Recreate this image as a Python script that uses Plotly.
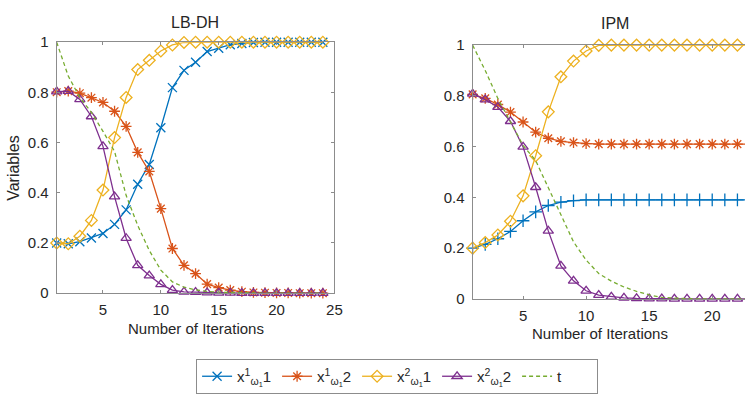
import plotly.graph_objects as go

# ---------------- data ----------------
iters = list(range(1, 25))

# LB-DH
lb_x11 = [0.200, 0.197, 0.205, 0.220, 0.238, 0.274, 0.332, 0.434, 0.513, 0.659, 0.819, 0.888, 0.920, 0.963,
          0.976, 0.990, 0.995, 0.999, 1.0, 1.0, 1.0, 1.0, 1.0, 1.0]
lb_x12 = [0.801, 0.805, 0.797, 0.779, 0.760, 0.725, 0.665, 0.561, 0.485, 0.337, 0.178, 0.111, 0.078, 0.036,
          0.022, 0.012, 0.006, 0.003, 0.002, 0.001, 0.001, 0.0, 0.0, 0.0]
lb_x21 = [0.200, 0.197, 0.227, 0.290, 0.411, 0.620, 0.780, 0.891, 0.928, 0.965, 0.989, 0.999, 1.0, 1.0,
          1.0, 1.0, 1.0, 1.0, 1.0, 1.0, 1.0, 1.0, 1.0, 1.0]
lb_x22 = [0.803, 0.805, 0.772, 0.704, 0.585, 0.385, 0.219, 0.111, 0.070, 0.035, 0.012, 0.005, 0.004, 0.002,
          0.001, 0.001, 0.0, 0.0, 0.0, 0.0, 0.0, 0.0, 0.0, 0.0]
lb_t = [1.0, 0.865, 0.780, 0.720, 0.645, 0.565, 0.390, 0.270, 0.170, 0.092, 0.045, 0.024, 0.013, 0.007,
        0.004, 0.002, 0.001, 0.001, 0.0, 0.0, 0.0, 0.0, 0.0, 0.0]

# IPM
ipm_x11 = [0.200, 0.215, 0.237, 0.266, 0.308, 0.343, 0.368, 0.381, 0.387, 0.390, 0.390, 0.390, 0.390, 0.390,
           0.390, 0.390, 0.390, 0.390, 0.390, 0.390, 0.390, 0.390, 0.390, 0.390]
ipm_x12 = [0.806, 0.790, 0.766, 0.736, 0.697, 0.657, 0.633, 0.621, 0.616, 0.612, 0.610, 0.610, 0.610, 0.610,
           0.610, 0.610, 0.610, 0.610, 0.610, 0.610, 0.610, 0.610, 0.610, 0.610]
ipm_x21 = [0.200, 0.222, 0.252, 0.306, 0.406, 0.564, 0.737, 0.875, 0.937, 0.977, 0.999, 1.0, 1.0, 1.0,
           1.0, 1.0, 1.0, 1.0, 1.0, 1.0, 1.0, 1.0, 1.0, 1.0]
ipm_x22 = [0.808, 0.785, 0.756, 0.700, 0.599, 0.440, 0.268, 0.130, 0.071, 0.032, 0.015, 0.008, 0.004, 0.002,
           0.001, 0.001, 0.0, 0.0, 0.0, 0.0, 0.0, 0.0, 0.0, 0.0]
ipm_t = [1.0, 0.900, 0.790, 0.700, 0.605, 0.545, 0.440, 0.335, 0.225, 0.153, 0.100, 0.070, 0.047, 0.030,
         0.016, 0.006, 0.002, 0.001, 0.0, 0.0, 0.0, 0.0, 0.0, 0.0]

names = ["x<sup>1</sup><sub>ω<sub>1</sub></sub>1", "x<sup>1</sup><sub>ω<sub>1</sub></sub>2",
         "x<sup>2</sup><sub>ω<sub>1</sub></sub>1", "x<sup>2</sup><sub>ω<sub>1</sub></sub>2", "t"]
colors = ["#0072BD", "#D95319", "#EDB120", "#7E2F8E", "#77AC30"]
x_ticks_left = [5, 10, 15, 20, 25]
x_ticks_right = [5, 10, 15, 20]
y_ticks = [0, 0.2, 0.4, 0.6, 0.8, 1]

FONT = "Liberation Sans, Arial, sans-serif"
TXT = "#262626"
AX = "#8c8c8c"

fig = go.Figure()

left_series = [lb_x11, lb_x12, lb_x21, lb_x22, lb_t]
right_series = [ipm_x11, ipm_x12, ipm_x21, ipm_x22, ipm_t]
left_symbols = ["x-thin-open", "asterisk-open", "diamond-open", "triangle-up-open", None]
right_symbols = ["cross-thin-open", "asterisk-open", "diamond-open", "triangle-up-open", None]

for i in range(5):
    for series, syms, xa, ya, show in [(left_series, left_symbols, "x", "y", True),
                                       (right_series, right_symbols, "x2", "y2", False)]:
        dash = "4px,3px" if syms[i] is None else "solid"
        mode = "lines" if syms[i] is None else "lines+markers"
        fig.add_trace(go.Scatter(
            x=iters, y=series[i], name=names[i], mode=mode,
            line=dict(color=colors[i], width=1.3, dash=dash),
            marker=dict(symbol=syms[i] if syms[i] else "circle", size=9,
                        line=dict(color=colors[i], width=1.3), color=colors[i]),
            xaxis=xa, yaxis=ya, showlegend=show, cliponaxis=False,
        ))

axis_common = dict(showgrid=False, zeroline=False, showline=True, linecolor=AX, linewidth=1,
                   ticks="inside", ticklen=3, tickcolor=AX, tickwidth=1,
                   tickfont=dict(family=FONT, size=15, color=TXT))

fig.update_layout(
    width=753, height=402,
    margin=dict(l=0, r=0, t=0, b=0),
    paper_bgcolor="white", plot_bgcolor="white",
    font=dict(family=FONT, color=TXT, size=15),
    xaxis=dict(domain=[0.0761, 0.4489], range=[1, 25], tickvals=x_ticks_left, mirror="ticks",
               anchor="y", ticklabelstandoff=3, **axis_common),
    yaxis=dict(domain=[0.2619, 0.9137], range=[0, 1], tickvals=y_ticks, mirror="ticks",
               anchor="x", ticklabelstandoff=4, **axis_common),
    xaxis2=dict(domain=[0.6344, 1.0], range=[1, 22.6], tickvals=x_ticks_right, mirror="ticks",
                anchor="y2", ticklabelstandoff=3, **axis_common),
    yaxis2=dict(domain=[0.247, 0.9062], range=[0, 1], tickvals=y_ticks, mirror=False,
                anchor="x2", ticklabelstandoff=4, **axis_common),
    legend=dict(orientation="h", x=0.533, xanchor="center", y=0.0, yanchor="bottom",
                bordercolor=AX, borderwidth=1, bgcolor="white",
                font=dict(family=FONT, size=15, color=TXT), entrywidth=35, itemwidth=30),
    showlegend=True,
)

def px_ann(text, x, y, size=15, angle=0):
    fig.add_annotation(text=text, x=x / 753, y=1 - y / 402, xref="paper", yref="paper",
                       showarrow=False, textangle=angle, font=dict(family=FONT, size=size, color=TXT),
                       xanchor="center", yanchor="middle")

px_ann("LB-DH", 197, 14, 16)
px_ann("IPM", 622, 15, 16)
px_ann("Variables", 14, 166, 16, -90)
px_ann("Number of Iterations", 198, 334, 15)
px_ann("Number of Iterations", 606, 339, 15)

fig.write_html("out.html")
